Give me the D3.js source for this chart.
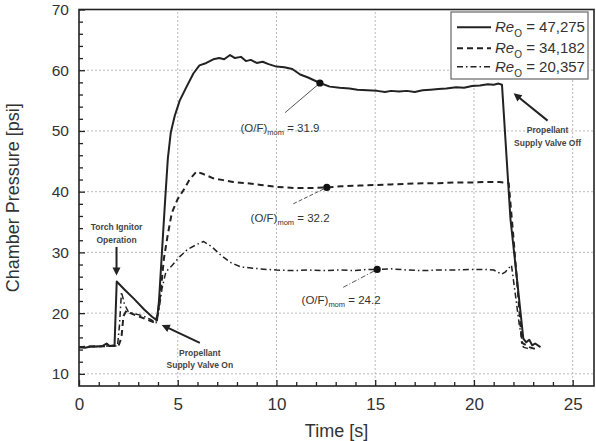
<!DOCTYPE html>
<html><head><meta charset="utf-8">
<script src="https://cdn.jsdelivr.net/npm/d3@7"></script>
<style>
html,body{margin:0;padding:0;background:#fff;}
svg{display:block;font-family:"Liberation Sans",Arial,sans-serif;}
</style></head>
<body>
<div id="chart"></div>
<script>
// ---------- data ----------
const timeA = [0,0.3,0.6,0.9,1.2,1.4,1.55,1.8,1.91,2.3,2.8,3.3,3.7,3.95,4.05,4.2,4.35,4.5,4.65,4.85,5.1,5.45,5.8,6.1,6.45,6.8,7.1,7.35,7.65,7.9,8.2,8.45,8.7,9.0,9.3,9.6,10.0,10.4,10.8,11.2,11.6,12.2,12.7,13.2,13.7,14.1,14.6,15.1,15.5,15.8,16.2,16.6,17.0,17.4,17.8,18.2,18.6,19.1,19.5,19.9,20.3,20.7,21.0,21.25,21.42,21.85,22.2,22.5,22.65,22.8,22.95,23.1,23.37];
const pressA = [14.4,14.3,14.5,14.5,14.6,15.0,14.6,14.7,25.2,23.9,22.3,20.6,19.4,18.8,22,30,38,45.5,49.8,52.5,55.0,57.3,59.5,60.8,61.2,61.8,62.0,61.8,62.5,62.0,62.2,61.5,61.7,61.2,61.4,61.0,60.6,60.5,60.2,59.3,58.8,57.9,57.3,57.1,57.0,56.8,56.7,56.6,56.4,56.6,56.5,56.6,56.4,56.7,56.8,56.9,57.0,57.2,57.1,57.4,57.5,57.7,57.6,57.8,57.6,35.5,25,15.8,15.2,15.6,14.7,15.0,14.4];

const timeB = [0,0.5,1.0,1.5,2.0,2.15,2.25,2.4,2.6,3.0,3.4,3.85,4.0,4.15,4.3,4.5,4.7,5.0,5.3,5.6,5.95,6.3,6.8,7.3,7.8,8.5,9.2,10.0,10.9,11.7,12.55,13.3,14.2,15.0,15.8,16.6,17.4,18.2,19.0,19.8,20.6,21.3,21.76,22.0,22.2,22.43,22.6,22.8,23.0,23.2];
const pressB = [14.4,14.5,14.5,14.6,14.6,16,19.5,20.4,20.0,19.5,19.0,18.4,20,24,29,33,36.5,38.8,40.3,42.0,43.3,42.9,42.2,41.9,41.6,41.4,41.1,40.8,40.6,40.6,40.7,40.9,41.0,41.1,41.2,41.3,41.4,41.4,41.5,41.5,41.6,41.6,41.4,32.5,24.5,15.1,14.8,14.4,14.2,14.0];

const timeC = [0,0.5,1.0,1.5,1.95,2.05,2.15,2.3,2.5,2.8,3.2,3.6,3.9,4.05,4.2,4.4,4.7,5.1,5.5,5.9,6.3,6.7,7.2,7.7,8.2,8.8,9.5,10.0,10.8,11.6,12.4,13.2,14.0,14.6,15.1,15.8,16.6,17.4,18.2,19.0,19.8,20.5,21.0,21.4,21.6,21.9,22.1,22.3,22.5,22.7,22.9];
const pressC = [14.4,14.5,14.5,14.6,14.6,18,23.5,21.5,20.2,19.9,19.6,19.0,18.4,20.5,24,26.8,27.8,29.3,30.5,31.2,31.8,31.0,29.5,28.3,27.6,27.4,27.2,27.1,27.0,27.1,27.0,27.1,27.0,27.2,27.2,27.3,27.1,27.0,27.1,27.1,27.2,27.2,27.1,26.4,26.8,27.9,23,18,14.4,14.2,14.1];

const seriesNames = ["47,275","34,182","20,357"];
const seriesDash = ["none","6,4","6,3,1.5,3"];
const seriesWidth = [2,2,1.5];

// O/F momentum points
const ofPointsT = [12.2, 12.55, 15.1];
const ofPointsP = [57.9, 40.7, 27.2];
const ofLabels = ["31.9","32.2","24.2"];
const ofTextT = [8.18, 8.69, 11.27];
const ofTextP = [49.8, 35.0, 21.5];
const ofLeadT = [10.43, 10.85, 13.38];
const ofLeadP = [53.0, 38.0, 24.25];

const xTicks = [0,5,10,15,20,25];
const yTicks = [10,20,30,40,50,60,70];

// ---------- layout ----------
const W = 596, H = 441;
const m = {left:79, top:9.5, right:2, bottom:55};
const pw = W - m.left - m.right, ph = 386 - m.top;

const x = d3.scaleLinear().domain([0,26.08]).range([m.left, m.left+pw]);
const y = d3.scaleLinear().domain([8,70]).range([m.top+ph, m.top]);

const svg = d3.select("#chart").append("svg").attr("width",W).attr("height",H);

// grid
const g = svg.append("g");
g.selectAll(".gx").data(xTicks.filter(d=>d>0)).enter().append("line")
  .attr("x1",d=>x(d)).attr("x2",d=>x(d)).attr("y1",y(8)).attr("y2",y(70))
  .attr("stroke","#bbb").attr("stroke-width",1).attr("stroke-dasharray","2,2");
g.selectAll(".gy").data(yTicks.filter(d=>d<70)).enter().append("line")
  .attr("x1",x(0)).attr("x2",x(26.08)).attr("y1",d=>y(d)).attr("y2",d=>y(d))
  .attr("stroke","#bbb").attr("stroke-width",1).attr("stroke-dasharray","2,2");

// axes
const xAxis = d3.axisBottom(x).tickValues(xTicks).tickSize(-6).tickPadding(12).tickFormat(d3.format("d"));
const xMinor = d3.axisBottom(x).tickValues(d3.range(1,26).filter(d=>d%5)).tickSize(-4).tickFormat("");
const yAxis = d3.axisLeft(y).tickValues(yTicks).tickSize(-6).tickPadding(10).tickFormat(d3.format("d"));
const yMinor = d3.axisLeft(y).tickValues(d3.range(10,70,2).filter(d=>d%10)).tickSize(-4).tickFormat("");

function styleAxis(sel, fs){
  sel.select(".domain").remove();
  sel.selectAll("line").attr("stroke","#222").attr("stroke-width",1.3);
  sel.selectAll("text").attr("fill","#333").style("font-size",fs+"px");
}
svg.append("g").attr("transform",`translate(0,${y(8)})`).call(xAxis).call(s=>styleAxis(s,17));
svg.append("g").attr("transform",`translate(0,${y(8)})`).call(xMinor).call(s=>styleAxis(s,17));
svg.append("g").attr("transform",`translate(${x(0)},0)`).call(yAxis).call(s=>styleAxis(s,15.5));
svg.append("g").attr("transform",`translate(${x(0)},0)`).call(yMinor).call(s=>styleAxis(s,15.5));

// frame
svg.append("rect").attr("x",x(0)).attr("y",y(70)).attr("width",x(26.08)-x(0)).attr("height",y(8)-y(70))
  .attr("fill","none").attr("stroke","#222").attr("stroke-width",1.6);

// axis titles
svg.append("text").attr("x",(x(0)+x(26.08))/2).attr("y",437).attr("text-anchor","middle")
  .attr("fill","#333").style("font-size","18px").text("Time [s]");
svg.append("text").attr("transform",`translate(19,${(y(8)+y(70))/2}) rotate(-90)`).attr("text-anchor","middle")
  .attr("fill","#333").style("font-size","18px").text("Chamber Pressure [psi]");

// lines
const series = [[timeA,pressA],[timeB,pressB],[timeC,pressC]];
const line = d3.line().x(d=>x(d[0])).y(d=>y(d[1])).curve(d3.curveLinear);
series.forEach((s,i)=>{
  const pts = s[0].map((t,j)=>[t,s[1][j]]);
  svg.append("path").datum(pts).attr("d",line).attr("fill","none")
    .attr("stroke","#222").attr("stroke-width",seriesWidth[i])
    .attr("stroke-dasharray",seriesDash[i]).attr("stroke-linejoin","round");
});

// O/F annotations
ofPointsT.forEach((t,i)=>{
  svg.append("line").attr("x1",x(ofLeadT[i])).attr("y1",y(ofLeadP[i]))
    .attr("x2",x(t)).attr("y2",y(ofPointsP[i]))
    .attr("stroke","#555").attr("stroke-width",1).attr("stroke-dasharray",i===0?"none":(i===1?"4,2":"5,2,1,2"));
  svg.append("circle").attr("cx",x(t)).attr("cy",y(ofPointsP[i])).attr("r",3.6).attr("fill","#111");
  const tx = svg.append("text").attr("x",x(ofTextT[i])).attr("y",y(ofTextP[i]))
    .attr("fill","#333").style("font-size","11.5px");
  tx.append("tspan").text("(O/F)");
  tx.append("tspan").attr("dy",2.5).style("font-size","7.5px").text("mom");
  tx.append("tspan").attr("dy",-2.5).text(" = " + ofLabels[i]);
});

// event annotations
function arrow(t1,p1,t2,p2){
  const x1=x(t1),y1=y(p1),x2=x(t2),y2=y(p2);
  const a=Math.atan2(y2-y1,x2-x1), L=8, w=4;
  svg.append("line").attr("x1",x1).attr("y1",y1)
    .attr("x2",x2-Math.cos(a)*L*0.8).attr("y2",y2-Math.sin(a)*L*0.8)
    .attr("stroke","#222").attr("stroke-width",2);
  const bx=x2-Math.cos(a)*L, by=y2-Math.sin(a)*L;
  svg.append("path").attr("d",`M${x2},${y2}L${bx-Math.sin(a)*w},${by+Math.cos(a)*w}L${bx+Math.sin(a)*w},${by-Math.cos(a)*w}Z`)
    .attr("fill","#222");
}
function note(t,ps,lines){
  lines.forEach((s,i)=>{
    svg.append("text").attr("x",x(t)).attr("y",y(ps[i])).attr("text-anchor","middle")
      .attr("fill","#444").style("font-size","8.5px").style("font-weight","bold").text(s);
  });
}
note(1.9,[33.7,31.5],["Torch Ignitor","Operation"]);
arrow(1.9,30.9,1.9,26.2);
note(6.12,[13.0,10.95],["Propellant","Supply Valve On"]);
arrow(6.12,15.1,4.19,18.05);
note(23.73,[49.66,47.6],["Propellant","Supply Valve Off"]);
arrow(23.73,51.7,22.01,56.2);

// legend
const lg = svg.append("g");
lg.append("rect").attr("x",451).attr("y",12).attr("width",137).attr("height",67)
  .attr("fill","#fff").attr("stroke","#666").attr("stroke-width",1.2);
const rowY = [27.3,48.3,66.7];
seriesNames.forEach((n,i)=>{
  lg.append("line").attr("x1",457).attr("x2",491).attr("y1",rowY[i]).attr("y2",rowY[i])
    .attr("stroke","#222").attr("stroke-width",seriesWidth[i]).attr("stroke-dasharray",seriesDash[i]);
  const t = lg.append("text").attr("x",495).attr("y",rowY[i]+5).attr("fill","#333").style("font-size","15px");
  t.append("tspan").style("font-style","italic").text("Re");
  t.append("tspan").attr("dy",5).style("font-size","10px").text("O");
  t.append("tspan").attr("dy",-5).text(" = " + n);
});
</script>
</body></html>
